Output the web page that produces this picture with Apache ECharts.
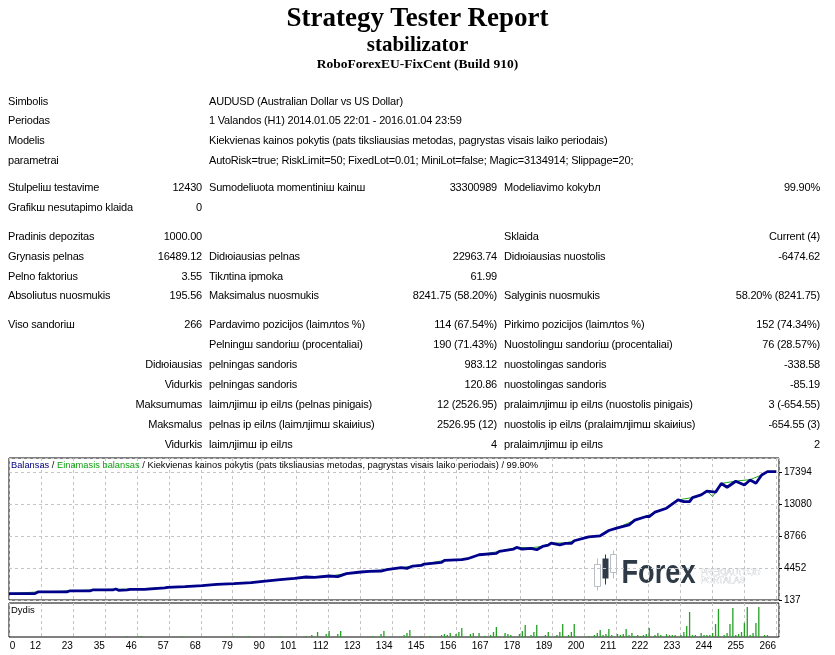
<!DOCTYPE html>
<html lang="lt">
<head>
<meta charset="UTF-8">
<title>Strategy Tester: stabilizator</title>
<script src="https://cdn.jsdelivr.net/npm/echarts@6/dist/echarts.min.js"></script>
<style>
  body { margin: 0; background: #fff; color: #000; font-family: "Liberation Sans", Arial, sans-serif; font-size: 11px; }
  .page { position: relative; width: 835px; height: 655px; overflow: hidden; }
  #chart { position: absolute; left: 0; top: 0; width: 835px; height: 655px; }
  .hd { position: absolute; left: 0; width: 835px; text-align: center; font-family: "Liberation Serif", "Times New Roman", serif; font-weight: bold; white-space: nowrap; }
  .row { position: absolute; left: 0; width: 835px; height: 14px; line-height: 14px; letter-spacing: -0.2px; }
  .row span { position: absolute; white-space: nowrap; }
  .a { left: 8px; }
  .b { right: 633px; text-align: right; }
  .c { left: 209px; }
  .d { right: 338px; text-align: right; }
  .e { left: 504px; }
  .f { right: 15px; text-align: right; }
</style>
</head>
<body>
<div class="page">
  <div id="chart"></div>

  <div class="hd" style="top:2px;font-size:27px;line-height:30px;">Strategy Tester Report</div>
  <div class="hd" style="top:31px;font-size:21px;line-height:26px;">stabilizator</div>
  <div class="hd" style="top:56px;font-size:13.5px;line-height:16px;">RoboForexEU-FixCent (Build 910)</div>

  <div class="row" style="top:94px"><span class="a">Simbolis</span><span class="c">AUDUSD (Australian Dollar vs US Dollar)</span></div>
  <div class="row" style="top:113px"><span class="a">Periodas</span><span class="c">1 Valandos (H1) 2014.01.05 22:01 - 2016.01.04 23:59</span></div>
  <div class="row" style="top:133px"><span class="a">Modelis</span><span class="c">Kiekvienas kainos pokytis (pats tiksliausias metodas, pagrystas visais laiko periodais)</span></div>
  <div class="row" style="top:153px"><span class="a">parametrai</span><span class="c">AutoRisk=true; RiskLimit=50; FixedLot=0.01; MiniLot=false; Magic=3134914; Slippage=20;</span></div>

  <div class="row" style="top:180px"><span class="a">Stulpeliш testavime</span><span class="b">12430</span><span class="c">Sumodeliuota momentiniш kainш</span><span class="d">33300989</span><span class="e">Modeliavimo kokybл</span><span class="f">99.90%</span></div>
  <div class="row" style="top:200px"><span class="a">Grafikш nesutapimo klaida</span><span class="b">0</span></div>

  <div class="row" style="top:229px"><span class="a">Pradinis depozitas</span><span class="b">1000.00</span><span class="e">Sklaida</span><span class="f">Current (4)</span></div>
  <div class="row" style="top:249px"><span class="a">Grynasis pelnas</span><span class="b">16489.12</span><span class="c">Didюiausias pelnas</span><span class="d">22963.74</span><span class="e">Didюiausias nuostolis</span><span class="f">-6474.62</span></div>
  <div class="row" style="top:269px"><span class="a">Pelno faktorius</span><span class="b">3.55</span><span class="c">Tikлtina ipmoka</span><span class="d">61.99</span></div>
  <div class="row" style="top:288px"><span class="a">Absoliutus nuosmukis</span><span class="b">195.56</span><span class="c">Maksimalus nuosmukis</span><span class="d">8241.75 (58.20%)</span><span class="e">Salyginis nuosmukis</span><span class="f">58.20% (8241.75)</span></div>

  <div class="row" style="top:317px"><span class="a">Viso sandoriш</span><span class="b">266</span><span class="c">Pardavimo pozicijos (laimлtos %)</span><span class="d">114 (67.54%)</span><span class="e">Pirkimo pozicijos (laimлtos %)</span><span class="f">152 (74.34%)</span></div>
  <div class="row" style="top:337px"><span class="c">Pelningш sandoriш (procentaliai)</span><span class="d">190 (71.43%)</span><span class="e">Nuostolingш sandoriш (procentaliai)</span><span class="f">76 (28.57%)</span></div>
  <div class="row" style="top:357px"><span class="b">Didюiausias</span><span class="c">pelningas sandoris</span><span class="d">983.12</span><span class="e">nuostolingas sandoris</span><span class="f">-338.58</span></div>
  <div class="row" style="top:377px"><span class="b">Vidurkis</span><span class="c">pelningas sandoris</span><span class="d">120.86</span><span class="e">nuostolingas sandoris</span><span class="f">-85.19</span></div>
  <div class="row" style="top:397px"><span class="b">Maksumumas</span><span class="c">laimлjimш ip eilлs (pelnas pinigais)</span><span class="d">12 (2526.95)</span><span class="e">pralaimлjimш ip eilлs (nuostolis pinigais)</span><span class="f">3 (-654.55)</span></div>
  <div class="row" style="top:417px"><span class="b">Maksmalus</span><span class="c">pelnas ip eilлs (laimлjimш skaiиius)</span><span class="d">2526.95 (12)</span><span class="e">nuostolis ip eilлs (pralaimлjimш skaiиius)</span><span class="f">-654.55 (3)</span></div>
  <div class="row" style="top:437px"><span class="b">Vidurkis</span><span class="c">laimлjimш ip eilлs</span><span class="d">4</span><span class="e">pralaimлjimш ip eilлs</span><span class="f">2</span></div>
</div>

<script type="text/javascript">
  // balanso kreive: sandorio nr. ir balansas
  var balTrades = [0, 9, 10, 20, 21, 28, 29, 36, 37, 38, 41, 42, 47, 54, 55, 61, 67, 72, 78, 84,
    88, 94, 99, 103, 106, 111, 114, 117, 122, 125, 129, 131, 136, 138, 140, 143, 144, 150, 151, 157,
    159, 163, 169, 170, 175, 176, 178, 181, 183, 185, 187, 188, 191, 193, 195, 196, 201, 205, 208, 211,
    215, 217, 221, 222, 224, 228, 232, 234, 236, 237, 240, 242, 245, 247, 249, 252, 255, 257, 259, 261,
    263, 266];
  var balValues = [1000, 1000, 1225, 1225, 1359, 1359, 1494, 1494, 1629, 1449, 1494, 1584, 1584, 1763, 1853, 1943, 2078, 2257, 2347, 2482,
    2661, 2886, 3065, 3245, 3200, 3380, 3290, 3694, 3919, 4008, 4053, 4233, 4502, 4412, 4727, 4817, 4996, 5221, 5490, 5580,
    5715, 6253, 6433, 6702, 7017, 7241, 7017, 7106, 6927, 7376, 7556, 7825, 7600, 7780, 7780, 8139, 8678, 8813, 9531, 9890,
    10294, 10923, 11417, 11417, 12001, 12539, 13662, 13437, 13437, 13976, 14335, 14850, 14700, 15880, 15368, 16180, 15682, 16350, 15907, 17029,
    17478, 17489];

  // einamasis balansas (equity)
  var eqTrades = [0, 10, 21, 29, 37, 42, 55, 67, 78, 88, 99, 103, 111, 117, 125, 131, 136, 140, 144, 151,
    159, 163, 170, 176, 181, 185, 188, 193, 196, 201, 205, 208, 211, 217, 221, 224, 228, 232, 237, 240,
    242, 244, 247, 252, 257, 261, 263, 266];
  var eqValues = [1000, 1225, 1359, 1494, 1600, 1584, 1853, 2078, 2347, 2661, 3065, 3245, 3380, 3694, 4008, 4233, 4502, 4727, 4996, 5490,
    5715, 6253, 6702, 7241, 7200, 7376, 7825, 7850, 8139, 8678, 8813, 9531, 9890, 10923, 11417, 12001, 12539, 13662, 13976, 14335,
    14850, 14111, 15880, 16200, 16400, 17029, 17478, 17489];

  // dydis (lotai) pagal sandorio nr.
  var volTrades = [41, 45, 46, 60, 78, 83, 94, 98, 103, 105, 107, 110, 111, 114, 115, 126, 129, 130, 137, 138,
    139, 143, 146, 150, 151, 152, 153, 155, 156, 157, 160, 161, 163, 165, 167, 168, 169, 172, 173, 174,
    177, 178, 179, 181, 182, 183, 186, 187, 190, 191, 192, 194, 195, 196, 201, 203, 204, 205, 206, 207,
    208, 209, 211, 212, 213, 214, 215, 216, 217, 218, 219, 220, 221, 222, 224, 225, 226, 228, 229, 230,
    231, 233, 234, 235, 236, 237, 238, 240, 241, 242, 243, 244, 245, 246, 248, 249, 250, 251, 252, 253,
    254, 255, 256, 257, 258, 259, 260, 262, 263];
  var volLots = [0.01, 0.01, 0.01, 0.01, 0.01, 0.01, 0.01, 0.01, 0.01, 0.02, 0.05, 0.03, 0.06, 0.03, 0.06, 0.01, 0.03, 0.06, 0.02, 0.04,
    0.07, 0.01, 0.01, 0.02, 0.03, 0.02, 0.04, 0.03, 0.05, 0.09, 0.03, 0.04, 0.04, 0.01, 0.02, 0.05, 0.10, 0.04, 0.03, 0.02,
    0.03, 0.06, 0.12, 0.02, 0.05, 0.12, 0.02, 0.05, 0.02, 0.05, 0.13, 0.02, 0.05, 0.13, 0.01, 0.02, 0.04, 0.07, 0.02, 0.03,
    0.08, 0.02, 0.03, 0.02, 0.03, 0.08, 0.02, 0.04, 0.01, 0.02, 0.01, 0.02, 0.03, 0.09, 0.02, 0.04, 0.02, 0.03, 0.02, 0.02,
    0.02, 0.02, 0.05, 0.11, 0.25, 0.02, 0.02, 0.04, 0.02, 0.02, 0.02, 0.04, 0.13, 0.28, 0.02, 0.04, 0.13, 0.29, 0.02, 0.03,
    0.05, 0.14, 0.30, 0.02, 0.04, 0.14, 0.30, 0.02, 0.02];

  // asiu zymes
  var xLabels = ['0', '12', '23', '35', '46', '57', '68', '79', '90', '101', '112', '123', '134',
    '145', '156', '167', '178', '189', '200', '211', '222', '233', '244', '255', '266'];
  var yLabels = ['137', '4452', '8766', '13080', '17394'];

  var FONT = '"Liberation Sans", Arial, sans-serif';
  var xStep = 266 / (xLabels.length - 1);
  var yMin = 137, yStep = 4314;

  function pairs(xs, ys) {
    var out = [];
    for (var i = 0; i < xs.length; i++) out.push([xs[i], ys[i]]);
    return out;
  }

  // x zymiu vietos: pirma zyme truputi desiniau krasto
  var xLabelPos = [2.2];
  for (var k = 1; k < xLabels.length; k++) xLabelPos.push(k * xStep);

  var dash = { show: true, lineStyle: { color: '#c4c4c4', type: [3, 3], width: 1 } };

  var myChart = echarts.init(document.getElementById('chart'), null, { renderer: 'canvas' });
  myChart.setOption({
    animation: false,
    backgroundColor: 'transparent',
    textStyle: { fontFamily: FONT },
    title: [{
      left: 11, top: 461, padding: 0,
      text: '{b|Balansas} / {g|Einamasis balansas} / Kiekvienas kainos pokytis (pats tiksliausias metodas, pagrystas visais laiko periodais) / 99.90%',
      textStyle: {
        fontSize: 9.3, fontWeight: 'normal', color: '#000', fontFamily: FONT,
        rich: {
          b: { color: '#000080', fontSize: 9.3, fontFamily: FONT },
          g: { color: '#10a010', fontSize: 9.3, fontFamily: FONT }
        }
      }
    }, {
      left: 11, top: 605, padding: 0,
      text: 'Dydis',
      textStyle: { fontSize: 9.5, fontWeight: 'normal', color: '#000', fontFamily: FONT }
    }],
    grid: [
      { left: 9, top: 458, width: 770, height: 142, show: true, borderColor: '#000', borderWidth: 1, backgroundColor: '#fff' },
      { left: 9, top: 603, width: 770, height: 34, show: true, borderColor: '#000', borderWidth: 1, backgroundColor: '#fff' }
    ],
    xAxis: [{
      gridIndex: 0, type: 'value', min: 0, max: 267, interval: xStep,
      axisLine: { show: false, onZero: false }, axisTick: { show: false }, axisLabel: { show: false },
      splitLine: dash
    }, {
      gridIndex: 1, type: 'value', min: 0, max: 267, interval: xStep,
      axisLine: { show: false, onZero: false }, axisTick: { show: false },
      splitLine: dash,
      axisLabel: {
        show: true, customValues: xLabelPos, align: 'right', margin: 4,
        color: '#000', fontSize: 10, fontFamily: FONT,
        formatter: function (v) {
          var i = Math.round(v / xStep);
          return xLabels[i] !== undefined ? xLabels[i] : '';
        }
      }
    }],
    yAxis: [{
      gridIndex: 0, type: 'value', position: 'right', min: yMin, max: 19322, interval: yStep,
      axisLine: { show: false, onZero: false },
      axisTick: { show: true, length: 3, lineStyle: { color: '#000' } },
      splitLine: dash,
      axisLabel: {
        margin: 5, color: '#000', fontSize: 10, fontFamily: FONT, showMaxLabel: false,
        formatter: function (v) {
          var i = Math.round((v - yMin) / yStep);
          if (Math.abs(v - (yMin + i * yStep)) > 1) return '';
          return yLabels[i] !== undefined ? yLabels[i] : '';
        }
      }
    }, {
      gridIndex: 1, type: 'value', min: 0, max: 0.34,
      axisLine: { show: false, onZero: false }, axisTick: { show: false }, axisLabel: { show: false },
      splitLine: { show: false }
    }],
    series: [{
      name: 'Einamasis balansas', type: 'line', xAxisIndex: 0, yAxisIndex: 0,
      data: pairs(eqTrades, eqValues), showSymbol: false, z: 2,
      lineStyle: { color: '#1ea81e', width: 1 }
    }, {
      name: 'Balansas', type: 'line', xAxisIndex: 0, yAxisIndex: 0,
      data: pairs(balTrades, balValues), showSymbol: false, z: 3,
      lineStyle: { color: '#00008b', width: 2.8 }
    }, {
      name: 'Dydis', type: 'bar', xAxisIndex: 1, yAxisIndex: 1,
      data: pairs(volTrades, volLots), barWidth: 1.3,
      itemStyle: { color: '#22a022' }
    }],
    graphic: [{
      type: 'group', left: 594, top: 548, z: 1, silent: true,
      children: [
        { type: 'line', shape: { x1: 5, y1: 8, x2: 5, y2: 40 }, style: { stroke: '#b8bec4', lineWidth: 1 } },
        { type: 'rect', shape: { x: 2, y: 14, width: 6, height: 22 }, style: { fill: '#fff', stroke: '#b8bec4', lineWidth: 1 } },
        { type: 'line', shape: { x1: 13, y1: 4, x2: 13, y2: 34 }, style: { stroke: '#2e3b46', lineWidth: 1 } },
        { type: 'rect', shape: { x: 10, y: 8, width: 6, height: 20 }, style: { fill: '#2e3b46' } },
        { type: 'line', shape: { x1: 21, y1: 0, x2: 21, y2: 28 }, style: { stroke: '#b8bec4', lineWidth: 1 } },
        { type: 'rect', shape: { x: 18, y: 4, width: 6, height: 18 }, style: { fill: '#fff', stroke: '#b8bec4', lineWidth: 1 } },
        { type: 'text', x: 29, y: 6, scaleX: 0.8, style: { text: 'Forex', font: 'bold 34px "Liberation Sans", Arial, sans-serif', fill: '#2e3b46' } },
        { type: 'text', x: 108, y: 18, style: { text: 'PREKIAUTOJO', font: '8.5px "Liberation Sans", Arial, sans-serif', fill: '#fff', stroke: '#a9afb5', lineWidth: 0.5 } },
        { type: 'text', x: 108, y: 26, style: { text: 'PORTALAS', font: '8.5px "Liberation Sans", Arial, sans-serif', fill: '#fff', stroke: '#a9afb5', lineWidth: 0.5 } }
      ]
    }]
  });
</script>
</body>
</html>
